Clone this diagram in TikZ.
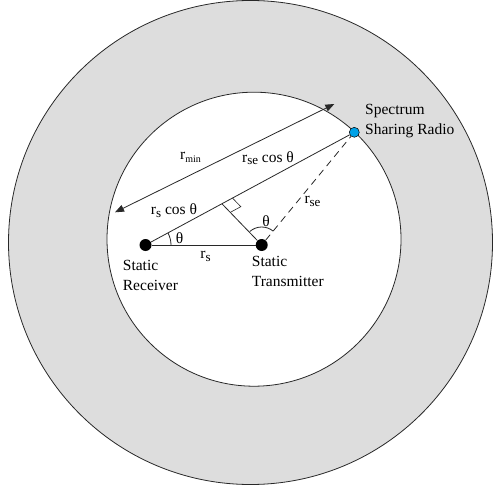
\documentclass[tikz,border=0pt]{standalone}
\usepackage{fontspec}
\setmainfont{Liberation Serif}
\usetikzlibrary{arrows.meta,calc}
\definecolor{ringgray}{RGB}{221,221,221}
\definecolor{linegray}{RGB}{40,40,40}
\definecolor{radioblue}{RGB}{0,162,232}
\newcommand{\lsub}[1]{\raisebox{-0.35ex}{\fontsize{13}{13}\selectfont #1}}
\newcommand{\ssub}[1]{\raisebox{-0.45ex}{\fontsize{10}{10}\selectfont #1}}
\begin{document}
\begin{tikzpicture}[x=1pt,y=1pt,
  lbl/.style={inner sep=0pt,font=\fontsize{15.5}{20}\selectfont},
  edge/.style={draw=linegray,line width=0.8pt},
  dot/.style={circle,fill=black,minimum size=12pt,inner sep=0pt},
  dbl/.style={{Triangle[length=9pt,width=7pt]}-{Triangle[length=9pt,width=7pt]}}
]
\useasboundingbox (0,0) rectangle (494,485);
% rings
\path[fill=ringgray,draw=linegray,line width=0.8pt] (250.5,242.5) circle[radius=242];
\path[fill=white,draw=linegray,line width=0.8pt] (254,245.8) circle[radius=147];
% points
\node[dot] (R) at (145.5,240) {};
\node[dot] (T) at (261.7,240) {};
\node[circle,fill=radioblue,draw=black,line width=0.5pt,minimum size=10pt,inner sep=0pt] (S) at (354.3,352.7) {};
% connectors
\draw[edge] (R) -- (T);
\draw[edge] (R) -- (S);
\draw[edge,dash pattern=on 7pt off 5pt] (T) -- (S);
\coordinate (F) at ($(R)!0.366!(S)$);
\draw[edge] (F) -- (T);
\coordinate (Fa) at ($(F)!12pt!(S)$);
\coordinate (Fb) at ($(F)!12pt!(T)$);
\draw[edge,line width=0.6pt] (Fa) -- ($(Fa)+(Fb)-(F)$) -- (Fb);
% r_min arrow
\coordinate (A1) at (115,272.7);
\coordinate (A2) at (334.3,381);
\draw[edge,dbl] (A1) -- (A2);
% angle arcs
\draw[edge] ($(R)+(25.5,0)$) arc[start angle=0,end angle=28.5,radius=25.5];
\draw[edge] ($(T)+(50:18)$) arc[start angle=50,end angle=132,radius=18];
% labels
\node[lbl] (lmin) at (190.5,328) {r\ssub{min}};
\node[lbl] (lsec) at (268,327) {r\lsub{se} cos θ};
\node[lbl] (lscos) at (174,274.5) {r\lsub{s} cos θ};
\node[lbl] (th1) at (179.5,246.5) {θ};
\node[lbl] (lrs) at (205.5,228.5) {r\lsub{s}};
\node[lbl] (th2) at (266,264) {θ};
\node[lbl] (lrse) at (312.5,283.5) {r\lsub{se}};
\node[lbl,align=left,anchor=west] (recv) at (122.7,210) {Static\\Receiver};
\node[lbl,align=left,anchor=west] (trans) at (251.7,213.5) {Static\\Transmitter};
\node[lbl,align=left,anchor=west] (radio) at (365,363.5) {Spectrum\\Sharing Radio};
\end{tikzpicture}
\end{document}
